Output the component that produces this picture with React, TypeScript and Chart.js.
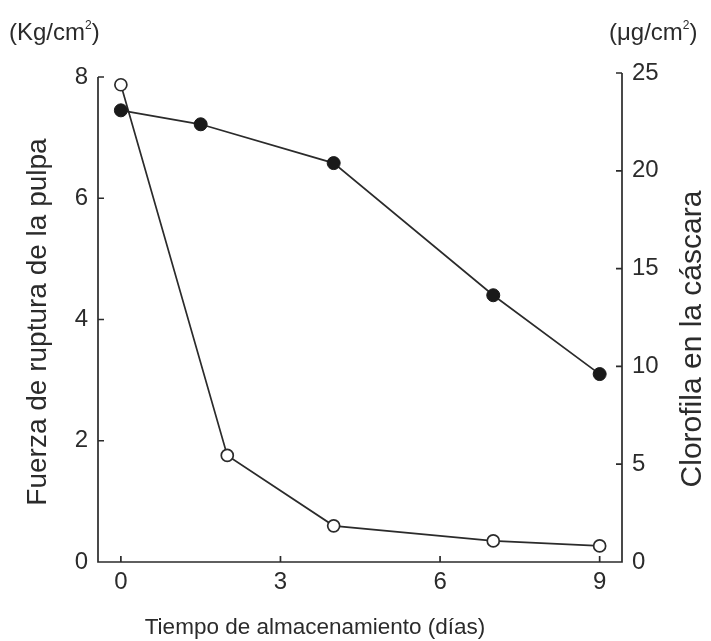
import React, { useEffect, useRef } from "react";
import { Chart, registerables } from "chart.js";

Chart.register(...registerables);

const firmDays = [0, 1.5, 4, 7, 9];
const firmValues = [7.45, 7.22, 6.58, 4.4, 3.1];
const chloroDays = [0, 2, 4, 7, 9];
const chloroValues = [24.4, 5.45, 1.85, 1.08, 0.82];
const xTicks = [0, 3, 6, 9];
const leftTicks = [0, 2, 4, 6, 8];
const rightTicks = [0, 5, 10, 15, 20, 25];

const FONT = "'Liberation Sans', Arial, sans-serif";
const INK = "#2b2b2b";

const axesPlugin = {
  id: "axesPlugin",
  afterDraw(chart: any) {
    const ctx = chart.ctx;
    const x = chart.scales.x;
    const yl = chart.scales.yL;
    const yr = chart.scales.yR;
    const bottom = yl.getPixelForValue(0);
    const left = x.left;
    const right = x.right;
    const tl = 6;
    ctx.save();
    ctx.strokeStyle = INK;
    ctx.lineWidth = 1.7;
    ctx.lineCap = "butt";
    ctx.beginPath();
    ctx.moveTo(left, yl.getPixelForValue(8));
    ctx.lineTo(left, bottom);
    ctx.lineTo(right, bottom);
    ctx.lineTo(right, yr.getPixelForValue(25));
    ctx.stroke();
    ctx.beginPath();
    for (const v of xTicks) {
      const px = x.getPixelForValue(v);
      ctx.moveTo(px, bottom);
      ctx.lineTo(px, bottom - tl);
    }
    for (const v of leftTicks) {
      if (v === 0) continue;
      const py = yl.getPixelForValue(v);
      ctx.moveTo(left, py);
      ctx.lineTo(left + tl, py);
    }
    for (const v of rightTicks) {
      if (v === 0) continue;
      const py = yr.getPixelForValue(v);
      ctx.moveTo(right, py);
      ctx.lineTo(right - tl, py);
    }
    ctx.stroke();

    ctx.fillStyle = INK;
    ctx.font = `22.5px ${FONT}`;
    ctx.textAlign = "center";
    ctx.textBaseline = "alphabetic";
    ctx.fillText("Tiempo de almacenamiento (días)", 315, 634);

    ctx.save();
    ctx.translate(46, 322);
    ctx.rotate(-Math.PI / 2);
    ctx.font = `28px ${FONT}`;
    ctx.textAlign = "center";
    ctx.fillText("Fuerza de ruptura de la pulpa", 0, 0);
    ctx.restore();

    ctx.save();
    ctx.translate(701, 339);
    ctx.rotate(-Math.PI / 2);
    ctx.font = `30px ${FONT}`;
    ctx.textAlign = "center";
    ctx.fillText("Clorofila en la cáscara", 0, 0);
    ctx.restore();

    const unit = (xStart: number, base: string) => {
      ctx.font = `24px ${FONT}`;
      ctx.textAlign = "left";
      ctx.fillText(base, xStart, 40);
      let w = ctx.measureText(base).width;
      ctx.font = `12px ${FONT}`;
      ctx.fillText("2", xStart + w, 29);
      w += ctx.measureText("2").width;
      ctx.font = `24px ${FONT}`;
      ctx.fillText(")", xStart + w, 40);
    };
    unit(9, "(Kg/cm");
    unit(609, "(μg/cm");
    ctx.restore();
  },
};

export default function App() {
  const ref = useRef<HTMLCanvasElement | null>(null);
  useEffect(() => {
    if (!ref.current) return;
    const tickFont = { family: FONT, size: 24 };
    const chart = new Chart(ref.current, {
      type: "scatter",
      data: {
        datasets: [
          {
            label: "Fuerza",
            data: firmDays.map((d, i) => ({ x: d, y: firmValues[i] })),
            yAxisID: "yL",
            showLine: true,
            borderColor: INK,
            borderWidth: 1.7,
            pointRadius: 6.5,
            pointBackgroundColor: "#1a1a1a",
            pointBorderColor: "#1a1a1a",
            pointBorderWidth: 1,
          },
          {
            label: "Clorofila",
            data: chloroDays.map((d, i) => ({ x: d, y: chloroValues[i] })),
            yAxisID: "yR",
            showLine: true,
            borderColor: INK,
            borderWidth: 1.7,
            pointRadius: 6,
            pointBackgroundColor: "#ffffff",
            pointBorderColor: INK,
            pointBorderWidth: 1.7,
          },
        ],
      },
      options: {
        responsive: false,
        animation: false,
        layout: { padding: { top: 73, left: 0, right: 0, bottom: 0 } },
        plugins: {
          legend: { display: false },
          tooltip: { enabled: false },
          title: { display: false },
        },
        scales: {
          x: {
            type: "linear",
            min: -0.43,
            max: 9.42,
            grid: { display: false, drawTicks: false },
            border: { display: false },
            afterBuildTicks: (s: any) => {
              s.ticks = xTicks.map((v) => ({ value: v }));
            },
            afterFit: (s: any) => {
              s.height = 79;
            },
            ticks: { font: tickFont, color: INK, padding: 6 },
          },
          yL: {
            type: "linear",
            position: "left",
            min: 0,
            max: 8.066,
            grid: { display: false, drawTicks: false },
            border: { display: false },
            afterBuildTicks: (s: any) => {
              s.ticks = leftTicks.map((v) => ({ value: v }));
            },
            afterFit: (s: any) => {
              s.width = 98;
            },
            ticks: { font: tickFont, color: INK, padding: 10 },
          },
          yR: {
            type: "linear",
            position: "right",
            min: 0,
            max: 25,
            grid: { display: false, drawTicks: false },
            border: { display: false },
            afterBuildTicks: (s: any) => {
              s.ticks = rightTicks.map((v) => ({ value: v }));
            },
            afterFit: (s: any) => {
              s.width = 89;
            },
            ticks: { font: tickFont, color: INK, padding: 10 },
          },
        },
      } as any,
      plugins: [axesPlugin],
    });
    return () => chart.destroy();
  }, []);
  return (
    <div style={{ position: "fixed", left: 0, top: 0, width: 711, height: 641, background: "#fff" }}>
      <canvas ref={ref} width={711} height={641} style={{ width: 711, height: 641 }} />
    </div>
  );
}
